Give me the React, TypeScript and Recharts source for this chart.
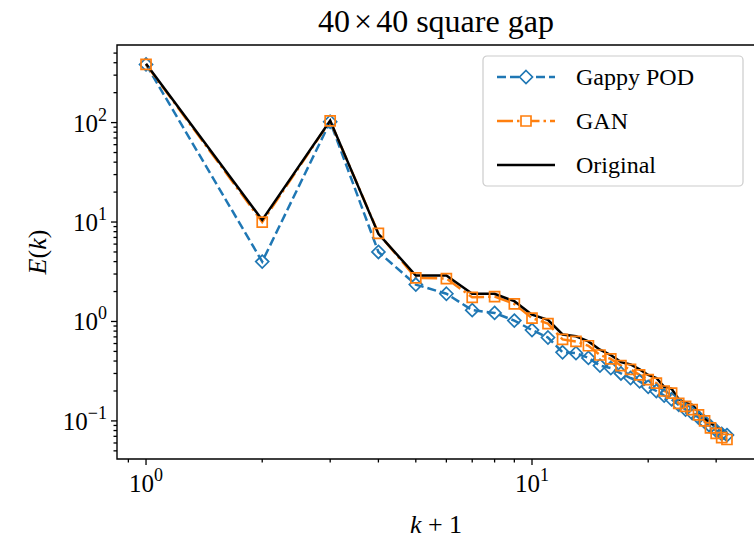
import React from 'react';
import { LineChart, Line, XAxis, YAxis, ReferenceArea } from 'recharts';

// k+1 on the x axis
const K1 = [1, 2, 3, 4, 5, 6, 7, 8, 9, 10, 11, 12, 13, 14, 15, 16, 17, 18, 19, 20, 21, 22, 23, 24, 25, 26, 27, 28, 29, 30, 31, 32];

const GAPPY_POD = [385, 4.0, 102, 5.0, 2.35, 1.9, 1.3, 1.22, 1.02, 0.82, 0.69, 0.49, 0.48, 0.43, 0.36, 0.34, 0.3, 0.27, 0.25, 0.22, 0.2, 0.18, 0.165, 0.145, 0.13, 0.12, 0.108, 0.098, 0.088, 0.08, 0.074, 0.072];
const GAN = [385, 10, 104, 7.7, 2.75, 2.7, 1.75, 1.78, 1.5, 1.08, 0.95, 0.66, 0.63, 0.57, 0.46, 0.42, 0.36, 0.33, 0.29, 0.26, 0.24, 0.2, 0.19, 0.15, 0.14, 0.13, 0.115, 0.1, 0.085, 0.075, 0.068, 0.065];
const ORIGINAL = [390, 10.5, 105, 7.6, 2.9, 2.9, 1.9, 1.9, 1.6, 1.17, 1.04, 0.74, 0.71, 0.63, 0.52, 0.46, 0.39, 0.37, 0.33, 0.29, 0.27, 0.22, 0.21, 0.165, 0.152, 0.145, 0.125, 0.107, 0.095, 0.088, 0.08, 0.077];

const X_MAJOR = [1, 10];
const X_MINOR = [0.9, 2, 3, 4, 5, 6, 7, 8, 9, 20, 30];
const Y_MAJOR = [0.1, 1, 10, 100];
const Y_MINOR = [
  0.05, 0.06, 0.07, 0.08, 0.09,
  0.2, 0.3, 0.4, 0.5, 0.6, 0.7, 0.8, 0.9,
  2, 3, 4, 5, 6, 7, 8, 9,
  20, 30, 40, 50, 60, 70, 80, 90,
  200, 300, 400, 500,
];

const BLUE = '#1f77b4';
const ORANGE = '#ff7f0e';
const FONT = '"Liberation Serif", "DejaVu Serif", serif';

const data = K1.map((x, i) => ({ x, pod: GAPPY_POD[i], gan: GAN[i], orig: ORIGINAL[i] }));

function exponent(v: number) {
  return String(Math.round(Math.log10(v))).replace('-', '\u2212');
}

function XTick({ x, y, payload }: any) {
  const major = X_MAJOR.includes(payload.value);
  return (
    <g>
      <line x1={x} x2={x} y1={y} y2={y + (major ? 6 : 3.5)} stroke="#000" strokeWidth={1.3} />
      {major && (
        <text x={x} y={y + 33} textAnchor="middle" fontFamily={FONT} fontSize={25} fill="#000">
          10<tspan dy={-11} fontSize={18}>{exponent(payload.value)}</tspan>
        </text>
      )}
    </g>
  );
}

function YTick({ x, y, payload }: any) {
  const major = Y_MAJOR.includes(payload.value);
  return (
    <g>
      <line x1={x} x2={x - (major ? 6 : 3.5)} y1={y} y2={y} stroke="#000" strokeWidth={1.3} />
      {major && (
        <text x={x - 10} y={y + 9} textAnchor="end" fontFamily={FONT} fontSize={25} fill="#000">
          10<tspan dy={-11} fontSize={18}>{exponent(payload.value)}</tspan>
        </text>
      )}
    </g>
  );
}

function diamond(cx: number, cy: number) {
  const r = 6.5;
  return `M${cx},${cy - r}L${cx + r},${cy}L${cx},${cy + r}L${cx - r},${cy}Z`;
}

function square(cx: number, cy: number) {
  const h = 5;
  return `M${cx - h},${cy - h}H${cx + h}V${cy + h}H${cx - h}Z`;
}

const DiamondDot = (props: any) => (
  <path key={`d${props.index}`} d={diamond(props.cx, props.cy)} fill="none" stroke={BLUE} strokeWidth={1.7} />
);
const SquareDot = (props: any) => (
  <path key={`s${props.index}`} d={square(props.cx, props.cy)} fill="none" stroke={ORANGE} strokeWidth={1.7} />
);

function LegendBox() {
  const rows = [
    { label: 'Gappy POD', color: BLUE, dash: '9 4', mark: 'd' },
    { label: 'GAN', color: ORANGE, dash: '16 4 2.5 4', mark: 's' },
    { label: 'Original', color: '#000', dash: undefined, mark: '' },
  ];
  return (
    <svg
      width={262}
      height={132}
      style={{ position: 'absolute', left: 482, top: 55 }}
    >
      <rect x={1} y={1} width={260} height={130} rx={4} fill="rgba(255,255,255,0.85)" stroke="#cccccc" strokeWidth={1.2} />
      {rows.map((r, i) => {
        const cy = 22 + i * 44;
        return (
          <g key={r.label}>
            <line x1={15} x2={73} y1={cy} y2={cy} stroke={r.color} strokeWidth={2.5} strokeDasharray={r.dash} />
            {r.mark === 'd' && <path d={diamond(44, cy)} fill="#fff" stroke={BLUE} strokeWidth={1.7} />}
            {r.mark === 's' && <path d={square(44, cy)} fill="#fff" stroke={ORANGE} strokeWidth={1.7} />}
            <text x={94} y={cy + 8} fontFamily={FONT} fontSize={24} fill="#000">{r.label}</text>
          </g>
        );
      })}
    </svg>
  );
}

export default function App() {
  return (
    <div style={{ position: 'relative', width: 754, height: 545, overflow: 'hidden', background: '#fff' }}>
      <style>{'body{margin:0}'}</style>
      <LineChart width={770} height={545} data={data} margin={{ top: 45, right: 14, left: 0, bottom: 0 }}>
        <XAxis
          dataKey="x"
          type="number"
          scale="log"
          domain={[0.841, 38.05]}
          allowDataOverflow
          ticks={[...X_MINOR, ...X_MAJOR].sort((a, b) => a - b)}
          interval={0}
          tickSize={0}
          tickMargin={0}
          tickLine={false}
          axisLine={false}
          tick={<XTick />}
          height={86}
        />
        <YAxis
          type="number"
          scale="log"
          domain={[0.0414, 603]}
          allowDataOverflow
          ticks={[...Y_MINOR, ...Y_MAJOR].sort((a, b) => a - b)}
          interval={0}
          tickSize={0}
          tickMargin={0}
          tickLine={false}
          axisLine={false}
          tick={<YTick />}
          width={117}
        />
        <Line
          dataKey="pod"
          stroke={BLUE}
          strokeWidth={2.5}
          strokeDasharray="9 4"
          dot={DiamondDot}
          activeDot={false}
          isAnimationActive={false}
        />
        <Line
          dataKey="gan"
          stroke={ORANGE}
          strokeWidth={2.5}
          strokeDasharray="16 4 2.5 4"
          dot={SquareDot}
          activeDot={false}
          isAnimationActive={false}
        />
        <Line
          dataKey="orig"
          stroke="#000"
          strokeWidth={2.5}
          dot={false}
          activeDot={false}
          isAnimationActive={false}
        />
        <ReferenceArea x1={0.841} x2={38.05} y1={0.0414} y2={603} fill="none" stroke="#000" strokeWidth={1.4} ifOverflow="visible" />
        <text x={436} y={32} textAnchor="middle" fontFamily={FONT} fontSize={32} fill="#000">
          40<tspan dx={4}>×</tspan><tspan dx={4}>40 square gap</tspan>
        </text>
        <text x={436} y={533} textAnchor="middle" fontFamily={FONT} fontSize={26} fill="#000">
          <tspan fontStyle="italic">k</tspan> + 1
        </text>
        <text
          x={0}
          y={0}
          transform="translate(46, 252) rotate(-90)"
          textAnchor="middle"
          fontFamily={FONT}
          fontSize={26}
          fill="#000"
        >
          <tspan fontStyle="italic">E</tspan>(<tspan fontStyle="italic">k</tspan>)
        </text>
      </LineChart>
      <LegendBox />
    </div>
  );
}
